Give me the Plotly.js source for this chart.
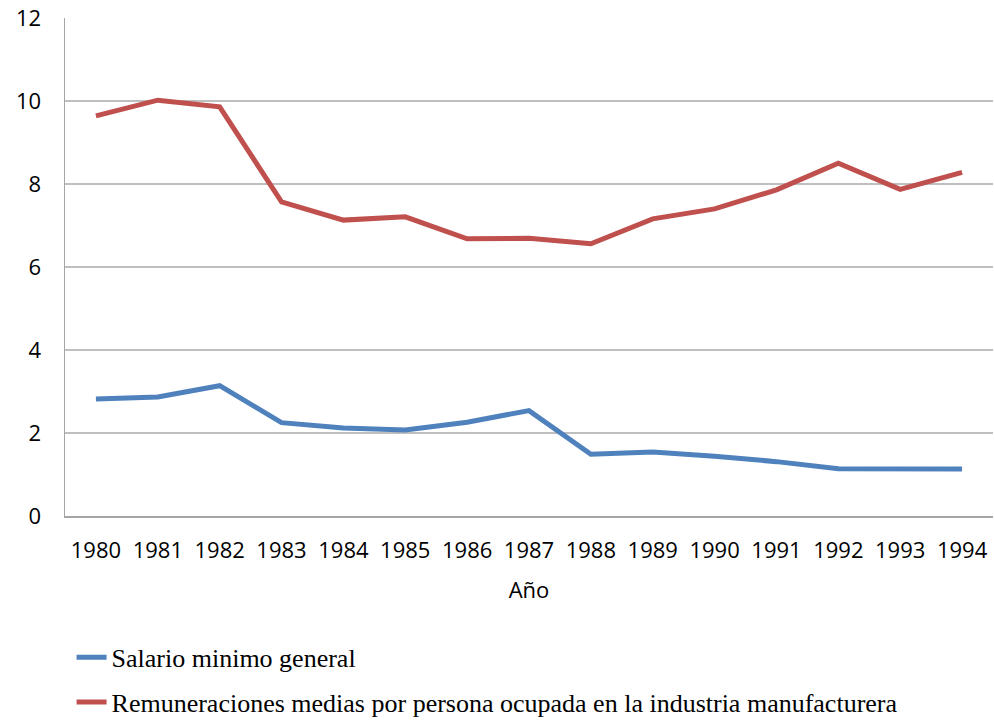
<!DOCTYPE html>
<html>
<head>
<meta charset="utf-8">
<script src="https://cdn.plot.ly/plotly-3.0.1.min.js"></script>
<style>html,body{margin:0;padding:0;background:#fff;}#chart{width:994px;height:721px;}</style>
</head>
<body>
<div id="chart"></div>
<script>
const years = ["1980","1981","1982","1983","1984","1985","1986","1987","1988","1989","1990","1991","1992","1993","1994"];
const salarioMinimo = [2.82, 2.87, 3.14, 2.25, 2.12, 2.07, 2.26, 2.54, 1.49, 1.54, 1.44, 1.31, 1.14, 1.12, 1.13];
const remuneraciones = [9.64, 10.02, 9.86, 7.57, 7.13, 7.21, 6.68, 6.69, 6.56, 7.16, 7.40, 7.86, 8.50, 7.87, 8.28];
const seriesNames = ["Salario minimo general", "Remuneraciones medias por persona ocupada en la industria manufacturera"];
const yTicks = [0, 2, 4, 6, 8, 10, 12];

const traces = [
  {x: years, y: salarioMinimo, name: seriesNames[0], type: "scatter", mode: "lines",
   line: {color: "#4f81bd", width: 5}, legendgroup: "a"},
  {x: years, y: remuneraciones, name: seriesNames[1], type: "scatter", mode: "lines",
   line: {color: "#c0504d", width: 5}, legendgroup: "b"}
];

const layout = {
  width: 994, height: 721,
  margin: {l: 65, r: 1, t: 18, b: 205, autoexpand: false},
  paper_bgcolor: "#fff", plot_bgcolor: "#fff",
  font: {family: "Open Sans", color: "#000"},
  showlegend: true,
  legend: {
    orientation: "v", xref: "container", x: 0.072, xanchor: "left",
    yref: "container", y: 0.121, yanchor: "top",
    font: {family: "Liberation Serif", size: 26, color: "#000"},
    tracegroupgap: 8, bgcolor: "rgba(0,0,0,0)"
  },
  xaxis: {
    type: "category", tickvals: years, ticktext: years,
    showgrid: false, showline: true, linecolor: "#a6a6a6", linewidth: 1.5,
    ticks: "", ticklabelstandoff: 14, tickangle: 0,
    tickfont: {family: "Open Sans", size: 22, color: "#000"},
    title: {text: "Año", font: {family: "Open Sans", size: 22, color: "#000"}, standoff: 19},
    range: [-0.5, 14.5], zeroline: false
  },
  yaxis: {
    range: [0, 12], tickvals: yTicks, ticktext: yTicks.map(String),
    showgrid: true, gridcolor: "#bfbfbf", gridwidth: 1.5,
    showline: true, linecolor: "#a6a6a6", linewidth: 1.5,
    ticks: "", ticklabelstandoff: 18, zeroline: false,
    tickfont: {family: "Open Sans", size: 22, color: "#000"}
  }
};

Plotly.newPlot("chart", traces, layout, {displayModeBar: false, staticPlot: true});
</script>
</body>
</html>
